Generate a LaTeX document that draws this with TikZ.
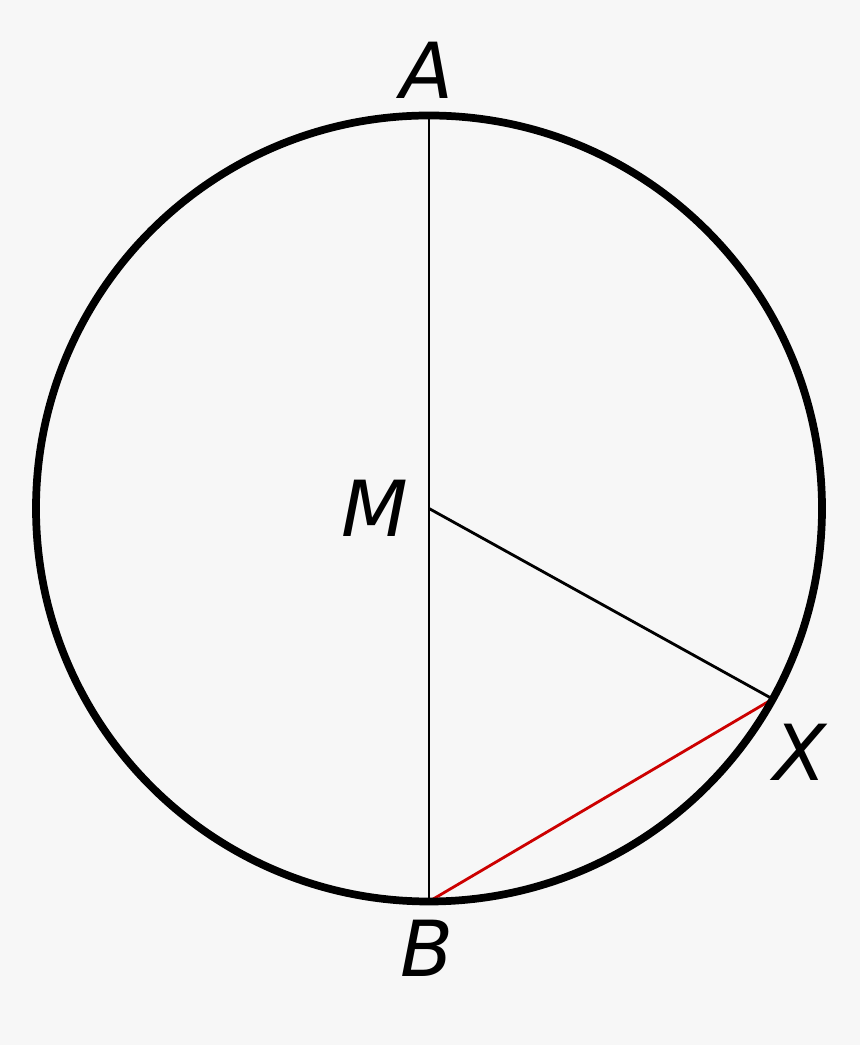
\documentclass[tikz,border=0pt]{standalone}
\usepackage{fontspec}
\setmainfont{DejaVu Sans}
\usetikzlibrary{calc}
\definecolor{bgray}{HTML}{F7F7F7}
\definecolor{chordred}{HTML}{CC0000}
\tikzset{
  lbl/.style={font=\fontsize{22}{26}\selectfont\itshape, inner sep=0pt},
  thin line/.style={line width=0.8pt},
}
\begin{document}
\begin{tikzpicture}
\fill[bgray] (0,0) rectangle (8.6,10.45);
\useasboundingbox (0,0) rectangle (8.6,10.45);

\coordinate (M) at (4.29,5.365);
\coordinate (A) at ($(M)+(90:3.93)$);
\coordinate (B) at ($(M)+(270:3.93)$);
\coordinate (X) at ($(M)+(-29:3.93)$);

  \draw[thin line] (A) -- (B);
  \draw[thin line] (M) -- (X);
  \draw[thin line, chordred] (B) -- (X);
  \draw[line width=2.2pt] (M) circle (3.93);

  \node[lbl] (labA) at (4.27,9.75) {A};
  \node[lbl] (labM) at (3.75,5.37) {M};
  \node[lbl] (labX) at (8.0,2.93) {X};
  \node[lbl] (labB) at (4.27,0.97) {B};
\end{tikzpicture}
\end{document}
